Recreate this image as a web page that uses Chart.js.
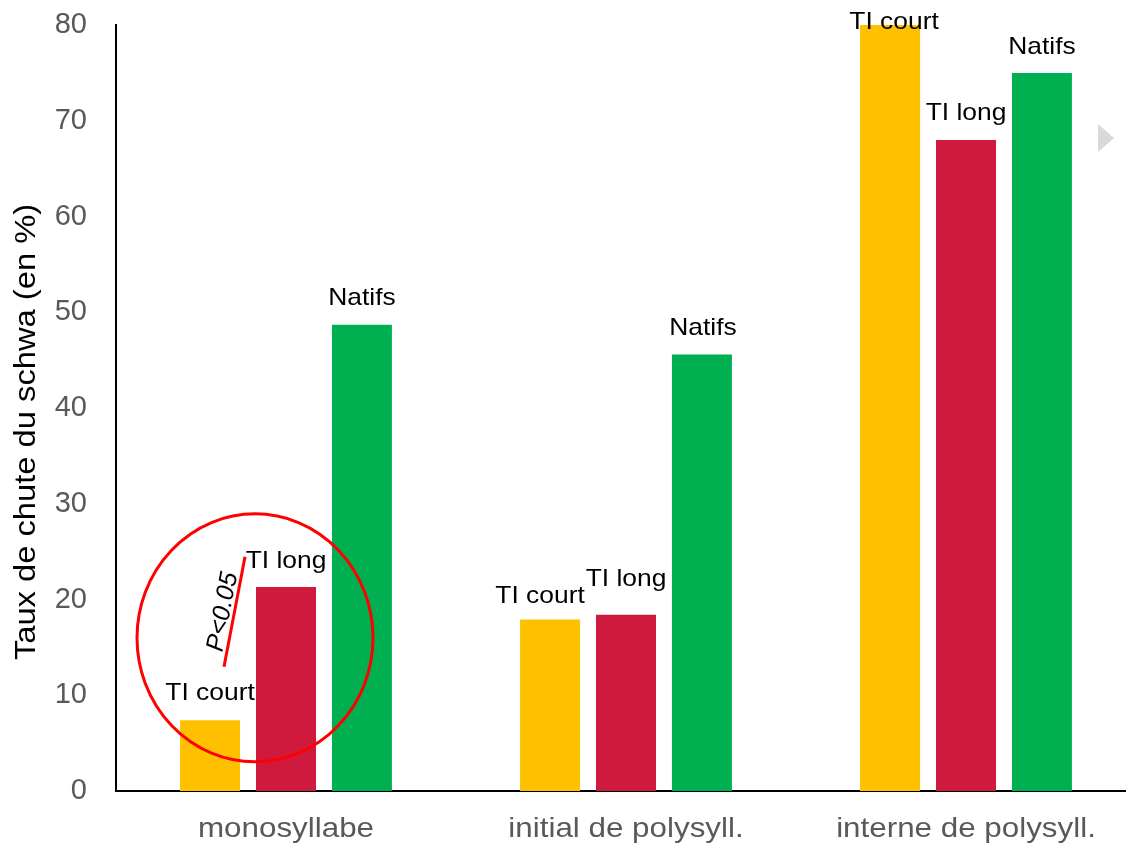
<!DOCTYPE html>
<html>
<head>
<meta charset="utf-8">
<script src="https://cdn.jsdelivr.net/npm/chart.js@4/dist/chart.umd.min.js"></script>
<style>
  html, body { margin: 0; padding: 0; background: #fff; overflow: hidden; }
  #myChart { display: block; }
</style>
</head>
<body>
<canvas id="myChart" width="1140" height="845"></canvas>
<script>
// Taux de chute du schwa selon la position
const categories = ['monosyllabe', 'initial de polysyll.', 'interne de polysyll.'];
const groupes = ['TI court', 'TI long', 'Natifs'];
const tiCourt = [7.4, 17.9, 80];
const tiLong = [21.3, 18.4, 68.0];
const natifs = [48.7, 45.6, 75.0];
const couleurs = ['#FFC000', '#CF1A3D', '#00B050'];
const titreY = 'Taux de chute du schwa (en %)';

// décalage du centre des étiquettes par rapport au haut de la barre [dx, dy] en px
const decalages = [
  [[0, -27], [0, -26], [0, -26]],
  [[-10, -23], [0, -35], [1, -26]],
  [[4, -3], [0, -27], [0, -26]]
];

const FONTE = '"Liberation Sans", Arial, sans-serif';

// texte un peu élargi horizontalement
function texteLarge(ctx, txt, x, y, font, color, sx, rot) {
  ctx.save();
  ctx.translate(x, y);
  if (rot) ctx.rotate(rot);
  ctx.scale(sx, 1);
  ctx.font = font;
  ctx.fillStyle = color;
  ctx.textAlign = 'center';
  ctx.textBaseline = 'middle';
  ctx.fillText(txt, 0, 0);
  ctx.restore();
}

const etiquettes = {
  id: 'etiquettes',
  afterDatasetsDraw(chart) {
    const ctx = chart.ctx;
    chart.data.datasets.forEach((ds, i) => {
      chart.getDatasetMeta(i).data.forEach((bar, j) => {
        const d = decalages[j][i];
        texteLarge(ctx, ds.label, bar.x + d[0], bar.y + d[1], '24px ' + FONTE, '#000', 1.1);
      });
    });
  },
  afterDraw(chart) {
    const ctx = chart.ctx;
    const x = chart.scales.x, y = chart.scales.y;

    // libellés des catégories
    categories.forEach((c, i) => {
      texteLarge(ctx, c, x.getPixelForValue(i), 829, '28px ' + FONTE, '#595959', 1.12);
    });
    // titre de l'axe Y
    texteLarge(ctx, titreY, 27, 432, '30px ' + FONTE, '#000', 1.09, -Math.PI / 2);

    const cx = x.getPixelForValue(0) - 31;
    const cy = y.getPixelForValue(16.1);
    ctx.save();
    // cercle rouge
    ctx.strokeStyle = '#FF0000';
    ctx.lineWidth = 3;
    ctx.beginPath();
    ctx.ellipse(cx, cy + 1, 118, 124, 0, 0, Math.PI * 2);
    ctx.stroke();
    // trait
    ctx.beginPath();
    ctx.moveTo(cx - 31, cy + 30);
    ctx.lineTo(cx - 10, cy - 80);
    ctx.stroke();
    ctx.restore();
    // P<0.05
    ctx.save();
    ctx.translate(cx - 32, cy - 25);
    ctx.rotate(-Math.PI / 2 + 0.19);
    ctx.font = 'italic 25px ' + FONTE;
    ctx.fillStyle = '#000';
    ctx.textAlign = 'center';
    ctx.textBaseline = 'middle';
    ctx.fillText('P<0.05', 0, 0);
    ctx.restore();
    // petit triangle gris
    ctx.save();
    ctx.fillStyle = '#D9D9D9';
    ctx.beginPath();
    ctx.moveTo(1098, 124);
    ctx.lineTo(1114, 138);
    ctx.lineTo(1098, 152);
    ctx.closePath();
    ctx.fill();
    ctx.restore();
  }
};

const ctx1 = document.getElementById('myChart').getContext('2d');
new Chart(ctx1, {
  type: 'bar',
  data: {
    labels: categories,
    datasets: [
      { label: groupes[0], data: tiCourt, backgroundColor: couleurs[0] },
      { label: groupes[1], data: tiLong, backgroundColor: couleurs[1] },
      { label: groupes[2], data: natifs, backgroundColor: couleurs[2] }
    ]
  },
  options: {
    responsive: false,
    animation: false,
    layout: { padding: { top: 25, right: 4, left: 0, bottom: 0 } },
    datasets: { bar: { categoryPercentage: 0.67, barPercentage: 0.79 } },
    plugins: { legend: { display: false }, tooltip: { enabled: false } },
    scales: {
      y: {
        min: 0,
        max: 80,
        afterFit(scale) {
          scale.width = 116;
          scale.paddingTop = 0;
          scale.paddingBottom = 0;
        },
        ticks: {
          stepSize: 10,
          padding: 21,
          color: '#595959',
          font: { size: 29, family: FONTE }
        },
        grid: { display: false },
        border: { color: '#000', width: 2 }
      },
      x: {
        afterFit(scale) {
          scale.height = 54;
          scale.paddingLeft = 0;
          scale.paddingRight = 0;
        },
        ticks: { display: false },
        grid: { display: false },
        border: { color: '#000', width: 2 }
      }
    }
  },
  plugins: [etiquettes]
});
</script>
</body>
</html>
